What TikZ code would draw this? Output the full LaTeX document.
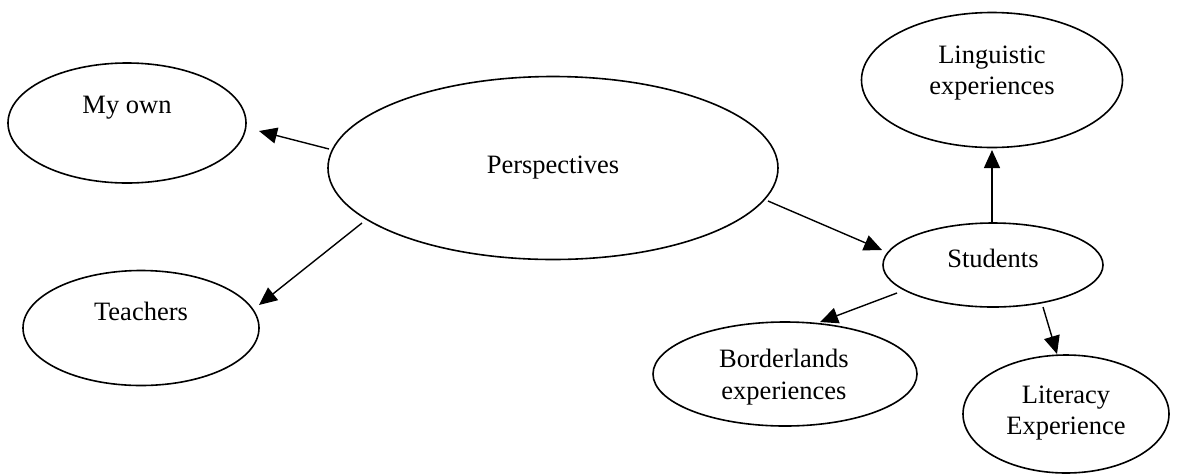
\documentclass[tikz,border=0pt]{standalone}
\usepackage{fontspec}
\setmainfont{Liberation Serif}
\usetikzlibrary{shapes.geometric,arrows.meta}
\begin{document}
\begin{tikzpicture}[x=1pt,y=-1pt,
  bubble/.style={draw,ellipse,line width=1.6pt,inner sep=0pt},
  label/.style={align=center,inner sep=0pt,font=\fontsize{26.5}{31.5}\selectfont},
  link/.style={line width=1.4pt,-{Triangle[length=18pt,width=16pt]}}]
\useasboundingbox (0,0) rectangle (1181,475);

% ellipses
\node[bubble,minimum width=238pt,minimum height=120pt] (myown) at (127,123) {};
\node[bubble,minimum width=450pt,minimum height=183pt] (persp) at (553,168) {};
\node[bubble,minimum width=236pt,minimum height=115pt] (teach) at (141,328) {};
\node[bubble,minimum width=261pt,minimum height=135pt] (ling) at (992,80) {};
\node[bubble,minimum width=220pt,minimum height=84pt] (stud) at (993,265) {};
\node[bubble,minimum width=264pt,minimum height=104pt] (bord) at (785,374) {};
\node[bubble,minimum width=206pt,minimum height=118pt] (lit) at (1066,414) {};

% labels
\node[label,anchor=base] (myownT) at (127,113) {My own};
\node[label,anchor=base] (perspT) at (553,173) {Perspectives};
\node[label,anchor=base] (teachT) at (141,320) {Teachers};
\node[label,anchor=base] (studT) at (993,267) {Students};
\node[label] (lingT) at (992,73) {Linguistic\\experiences};
\node[label] (bordT) at (784,377) {Borderlands\\experiences};
\node[label] (litT) at (1066,413) {Literacy\\Experience};

% connector end points
\coordinate (p1) at (329,149);  \coordinate (m1) at (259,131);
\coordinate (p2) at (362,223);  \coordinate (t1) at (259,305);
\coordinate (p3) at (768,201);  \coordinate (s1) at (882,250);
\coordinate (s2) at (992,223);  \coordinate (l1) at (992,150);
\coordinate (s3) at (897,293);  \coordinate (b1) at (820,322);
\coordinate (s4) at (1043,307); \coordinate (x1) at (1057,354);

% connectors
\draw[link] (p1) -- (m1);
\draw[link] (p2) -- (t1);
\draw[link] (p3) -- (s1);
\draw[link] (s2) -- (l1);
\draw[link] (s3) -- (b1);
\draw[link] (s4) -- (x1);
\end{tikzpicture}
\end{document}
